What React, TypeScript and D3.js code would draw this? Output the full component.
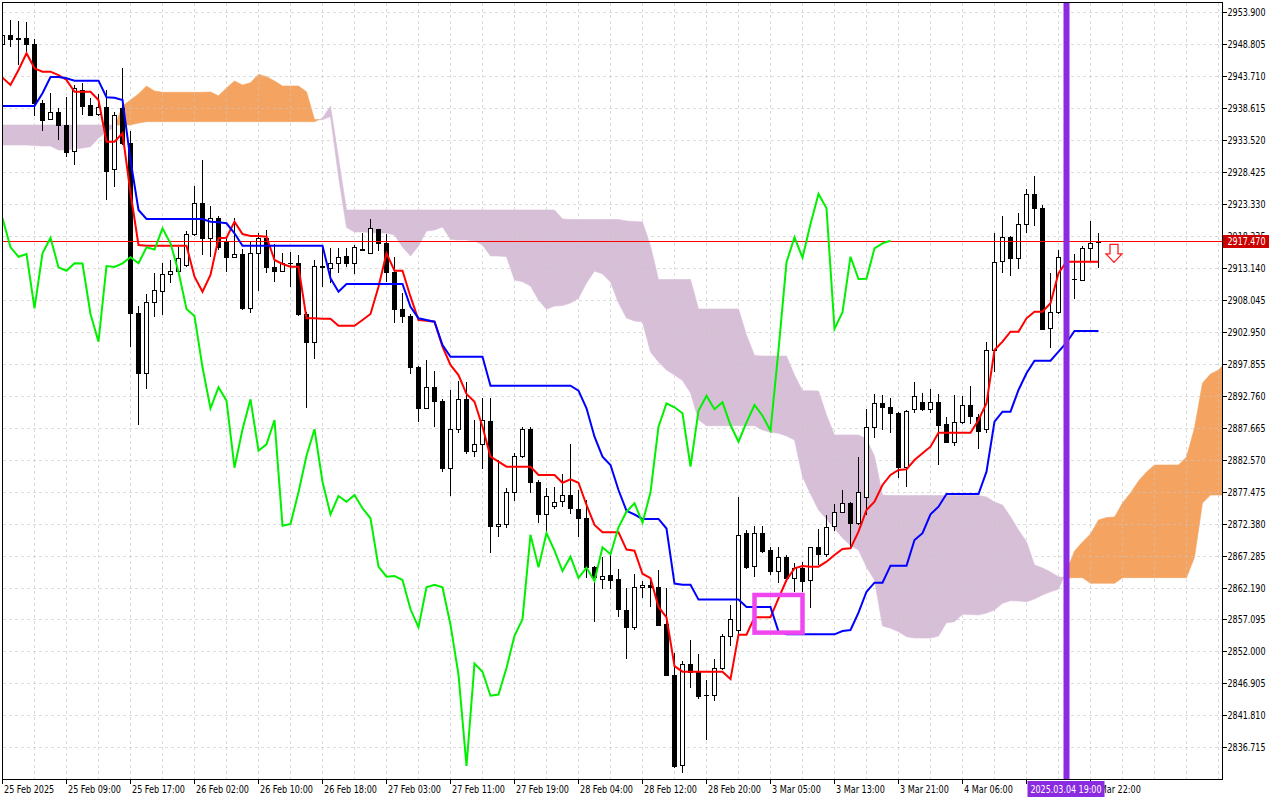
import React, { useEffect, useRef } from "react";
import * as d3 from "d3";

// hourly candles, 25 Feb 01:00 -> 4 Mar 23:00
const opens = [
  2948.85, 2950.28, 2949.76, 2949.85, 2948.85, 2939.49, 2936.84, 2937.96, 2935.88, 2931.83,
  2941.51, 2939.07, 2937.64, 2938.85, 2928.87, 2938.59, 2933.01, 2905.91, 2896.34, 2907.66,
  2909.47, 2912.18, 2912.70, 2913.61, 2918.55, 2923.45, 2917.87, 2921.06, 2917.44, 2914.93,
  2915.37, 2906.71, 2915.48, 2917.96, 2913.24, 2912.70, 2913.88, 2913.88, 2905.80, 2901.38,
  2913.45, 2913.09, 2913.88, 2915.05, 2913.88, 2916.16, 2915.57, 2919.30, 2917.07, 2912.54,
  2906.60, 2905.48, 2897.35, 2890.76, 2894.11, 2891.98, 2881.29, 2887.42, 2892.20, 2884.00,
  2885.02, 2888.74, 2872.00, 2872.27, 2877.47, 2883.16, 2887.42, 2879.06, 2873.86, 2875.19,
  2875.99, 2876.94, 2874.71, 2873.23, 2865.51, 2863.50, 2864.19, 2863.50, 2858.61, 2855.85,
  2862.21, 2862.62, 2862.34, 2856.44, 2848.29, 2833.85, 2850.06, 2848.77, 2845.05, 2845.12,
  2849.36, 2854.49, 2855.37, 2870.88, 2865.70, 2870.88, 2868.11, 2864.82, 2867.10, 2863.66,
  2865.35, 2863.39, 2868.60, 2867.49, 2872.00, 2874.28, 2875.62, 2872.43, 2876.57, 2887.83,
  2891.56, 2890.92, 2889.97, 2881.45, 2890.61, 2891.72, 2890.61, 2891.72, 2888.26, 2885.34,
  2888.53, 2891.29, 2889.43, 2887.42, 2900.06, 2914.25, 2918.03, 2914.78, 2920.15, 2924.93,
  2922.65, 2903.52, 2906.07, 2914.93, 2911.38, 2911.22, 2916.27, 2917.23,
];
const highs = [
  2950.44, 2952.67, 2952.56, 2952.40, 2949.60, 2939.92, 2940.99, 2938.59, 2940.44, 2942.31,
  2942.58, 2940.28, 2940.87, 2941.51, 2938.05, 2944.97, 2935.02, 2907.07, 2908.99, 2912.29,
  2913.88, 2914.41, 2916.53, 2919.03, 2926.21, 2930.35, 2923.02, 2921.42, 2918.12, 2921.06,
  2916.11, 2917.33, 2918.67, 2919.19, 2916.96, 2915.57, 2915.64, 2915.21, 2906.12, 2914.41,
  2916.27, 2916.27, 2916.27, 2916.27, 2916.80, 2918.76, 2920.90, 2919.35, 2918.51, 2914.93,
  2909.10, 2905.80, 2897.51, 2898.47, 2896.71, 2892.20, 2893.68, 2895.12, 2894.91, 2888.90,
  2892.45, 2892.36, 2882.52, 2878.01, 2883.69, 2887.83, 2887.83, 2879.33, 2878.01, 2878.27,
  2880.29, 2885.02, 2877.74, 2876.14, 2865.62, 2867.10, 2867.65, 2865.10, 2862.05, 2864.28,
  2863.23, 2863.63, 2864.98, 2862.05, 2851.72, 2850.54, 2853.90, 2851.54, 2847.48, 2850.84,
  2854.84, 2859.39, 2876.61, 2871.30, 2872.06, 2872.06, 2868.65, 2868.60, 2867.38, 2866.05,
  2866.31, 2868.70, 2871.47, 2873.75, 2875.51, 2877.74, 2875.87, 2882.95, 2890.61, 2893.00,
  2892.89, 2892.36, 2890.17, 2890.49, 2895.01, 2893.16, 2893.79, 2893.04, 2889.33, 2892.89,
  2892.73, 2894.32, 2889.86, 2901.38, 2918.76, 2921.42, 2918.24, 2921.95, 2925.68, 2927.80,
  2923.18, 2912.29, 2916.00, 2916.00, 2915.37, 2916.64, 2920.63, 2918.67,
];
const lows = [
  2948.69, 2948.42, 2945.50, 2947.36, 2937.37, 2935.02, 2936.73, 2933.54, 2930.78, 2929.55,
  2937.53, 2937.37, 2937.37, 2923.97, 2926.10, 2932.74, 2900.59, 2888.10, 2893.79, 2905.37,
  2905.64, 2910.79, 2912.50, 2913.29, 2918.24, 2915.21, 2914.84, 2916.00, 2912.54, 2914.73,
  2906.44, 2905.91, 2909.51, 2912.29, 2910.95, 2912.50, 2910.15, 2905.48, 2890.76, 2898.58,
  2910.06, 2910.69, 2912.38, 2913.34, 2912.13, 2915.84, 2915.37, 2915.84, 2910.95, 2904.32,
  2904.32, 2896.19, 2888.53, 2890.61, 2887.83, 2880.66, 2876.78, 2886.78, 2883.43, 2883.05,
  2881.04, 2867.74, 2870.20, 2871.73, 2875.99, 2882.89, 2877.21, 2872.53, 2871.09, 2874.66,
  2875.08, 2873.86, 2870.29, 2863.66, 2856.74, 2861.91, 2861.91, 2857.44, 2850.84, 2855.42,
  2860.57, 2859.09, 2856.06, 2848.08, 2833.42, 2832.56, 2846.23, 2844.46, 2837.86, 2844.05,
  2849.04, 2852.90, 2854.67, 2865.14, 2863.93, 2867.65, 2864.19, 2862.96, 2863.39, 2861.52,
  2861.52, 2858.88, 2865.78, 2867.10, 2871.25, 2874.02, 2868.70, 2872.16, 2873.75, 2885.98,
  2887.30, 2886.78, 2879.60, 2878.27, 2889.97, 2890.38, 2889.97, 2881.72, 2885.23, 2884.75,
  2888.26, 2888.26, 2884.23, 2886.78, 2896.60, 2912.38, 2911.86, 2912.97, 2918.67, 2919.83,
  2903.25, 2900.33, 2905.80, 2909.63, 2908.19, 2911.06, 2914.25, 2913.18,
];
const closes = [
  2950.28, 2949.60, 2949.72, 2948.80, 2939.49, 2936.73, 2937.96, 2935.88, 2931.68, 2941.78,
  2939.01, 2937.57, 2938.85, 2928.65, 2937.48, 2933.01, 2905.91, 2896.44, 2907.66, 2909.63,
  2912.13, 2912.70, 2914.68, 2918.51, 2923.45, 2917.87, 2921.06, 2916.43, 2914.93, 2915.37,
  2906.71, 2915.48, 2917.96, 2913.24, 2912.70, 2913.88, 2913.85, 2905.80, 2901.38, 2913.45,
  2913.29, 2913.88, 2914.84, 2913.88, 2916.43, 2916.08, 2919.46, 2917.07, 2912.54, 2906.60,
  2905.48, 2897.30, 2890.76, 2894.11, 2891.98, 2881.29, 2887.42, 2892.20, 2884.00, 2885.02,
  2888.90, 2872.05, 2872.32, 2877.37, 2883.21, 2887.42, 2879.06, 2873.86, 2876.78, 2875.87,
  2876.94, 2874.82, 2873.23, 2865.51, 2863.92, 2864.03, 2863.39, 2858.72, 2855.85, 2862.21,
  2862.62, 2862.21, 2856.26, 2848.29, 2833.74, 2850.06, 2848.77, 2844.94, 2845.12, 2849.36,
  2854.49, 2857.14, 2870.60, 2865.40, 2870.88, 2868.06, 2864.82, 2867.10, 2863.71, 2865.35,
  2863.23, 2868.60, 2867.49, 2871.79, 2874.28, 2875.62, 2872.53, 2877.37, 2887.83, 2891.56,
  2890.92, 2889.97, 2881.45, 2890.38, 2892.77, 2890.61, 2891.72, 2888.10, 2885.44, 2888.53,
  2891.29, 2889.58, 2887.19, 2900.06, 2914.04, 2918.03, 2914.78, 2920.15, 2924.93, 2922.65,
  2903.41, 2906.07, 2914.93, 2911.38, 2911.43, 2916.27, 2917.07, 2917.47,
];

// Ichimoku lines
const tenkan = [
  2943.47, 2942.31, 2944.70, 2947.36, 2944.97, 2944.43, 2944.43, 2943.90, 2943.11, 2941.24,
  2941.24, 2941.24, 2939.92, 2933.27, 2933.27, 2934.61, 2925.09, 2916.80, 2916.69, 2916.69,
  2916.69, 2916.69, 2916.69, 2916.69, 2911.75, 2909.35, 2912.02, 2917.87, 2917.96, 2920.52,
  2918.55, 2918.24, 2918.24, 2918.12, 2914.41, 2913.77, 2913.34, 2913.34, 2905.11, 2905.11,
  2905.05, 2905.05, 2903.93, 2903.93, 2903.93, 2904.84, 2905.80, 2910.15, 2915.48, 2912.70,
  2912.70, 2908.56, 2904.84, 2904.73, 2904.57, 2900.59, 2897.67, 2896.07, 2893.04, 2891.82,
  2887.83, 2883.05, 2882.25, 2881.45, 2881.45, 2881.45, 2881.45, 2880.13, 2880.13, 2880.13,
  2878.90, 2879.44, 2878.90, 2875.35, 2872.16, 2870.99, 2870.99, 2870.99, 2868.24, 2868.06,
  2864.39, 2863.69, 2859.09, 2857.44, 2849.65, 2848.77, 2848.77, 2848.77, 2848.77, 2848.77,
  2848.77, 2847.59, 2854.67, 2854.67, 2857.44, 2857.44, 2857.44, 2860.47, 2863.39, 2865.25,
  2865.62, 2865.51, 2865.51, 2866.31, 2867.38, 2868.33, 2868.44, 2871.09, 2874.55, 2875.87,
  2878.54, 2880.13, 2880.93, 2881.04, 2882.52, 2883.59, 2884.64, 2886.87, 2886.87, 2886.87,
  2886.87, 2886.87, 2888.90, 2891.56, 2900.06, 2901.38, 2902.98, 2902.98, 2905.11, 2906.17,
  2906.17, 2907.51, 2912.29, 2914.14, 2914.14, 2914.14, 2914.14, 2914.14,
];
const kijun = [
  2938.96, 2938.96, 2938.96, 2938.96, 2938.96, 2940.99, 2943.59, 2943.59, 2943.38, 2943.00,
  2943.00, 2943.00, 2943.00, 2940.35, 2940.28, 2939.92, 2930.35, 2922.38, 2920.95, 2920.95,
  2920.95, 2920.95, 2920.95, 2920.95, 2920.95, 2920.95, 2920.52, 2920.42, 2920.26, 2918.67,
  2916.69, 2916.69, 2916.69, 2916.69, 2916.69, 2916.69, 2916.69, 2916.69, 2916.69, 2916.69,
  2916.69, 2911.49, 2909.35, 2910.58, 2910.58, 2910.58, 2910.58, 2910.58, 2910.58, 2910.58,
  2910.58, 2906.96, 2905.11, 2904.84, 2904.57, 2900.86, 2898.99, 2898.99, 2898.99, 2898.99,
  2898.99, 2894.37, 2894.37, 2894.37, 2894.37, 2894.37, 2894.37, 2894.37, 2894.37, 2894.37,
  2894.37, 2894.37, 2893.57, 2890.76, 2886.24, 2883.05, 2881.72, 2877.74, 2874.42, 2873.83,
  2873.13, 2873.13, 2873.13, 2871.60, 2862.82, 2862.62, 2862.62, 2860.26, 2860.26, 2860.26,
  2860.26, 2860.26, 2860.26, 2859.09, 2859.09, 2859.09, 2859.09, 2855.15, 2854.73, 2854.73,
  2854.73, 2854.73, 2854.73, 2854.73, 2854.73, 2855.26, 2855.42, 2858.18, 2861.52, 2862.96,
  2862.96, 2865.67, 2865.67, 2865.67, 2869.77, 2870.84, 2873.86, 2875.08, 2877.10, 2877.10,
  2877.10, 2877.10, 2877.10, 2880.66, 2888.63, 2890.22, 2890.22, 2893.68, 2896.34, 2898.35,
  2898.35, 2898.35, 2899.79, 2901.22, 2903.09, 2903.09, 2903.09, 2903.09,
];
// senkou spans, already shifted 26 bars ahead (index = displayed bar)
const spanA = [
  2932.74, 2932.74, 2932.74, 2932.74, 2932.66, 2932.58, 2932.58, 2931.95, 2931.95, 2932.11,
  2932.26, 2932.47, 2933.86, 2934.82, 2935.61, 2938.96, 2939.92, 2940.87, 2942.15, 2941.35,
  2941.15, 2941.15, 2941.15, 2941.15, 2941.15, 2941.15, 2941.20, 2940.60, 2941.83, 2942.95,
  2942.31, 2942.68, 2944.02, 2943.63, 2942.95, 2942.15, 2942.15, 2942.15, 2941.24, 2936.81,
  2936.78, 2937.27, 2927.72, 2919.59, 2918.87, 2918.87, 2918.79, 2918.71, 2918.71, 2918.39,
  2916.48, 2915.05, 2916.64, 2919.03, 2919.19, 2919.67, 2917.71, 2917.60, 2917.60, 2917.44,
  2916.80, 2915.05, 2915.05, 2914.93, 2911.22, 2910.95, 2910.26, 2908.03, 2906.55, 2907.07,
  2907.15, 2907.55, 2908.30, 2910.74, 2912.65, 2912.18, 2910.90, 2907.55, 2905.16, 2904.68,
  2904.52, 2899.74, 2898.15, 2896.87, 2896.07, 2895.20, 2893.20, 2888.90, 2887.99, 2887.99,
  2887.99, 2887.99, 2887.99, 2887.99, 2887.99, 2887.30, 2886.94, 2886.78, 2886.35, 2885.71,
  2879.86, 2877.10, 2874.55, 2873.12, 2871.63, 2870.09, 2868.89, 2868.17, 2865.46, 2863.39,
  2856.06, 2855.69, 2855.15, 2854.35, 2854.14, 2854.14, 2854.14, 2854.46, 2856.58, 2856.74,
  2857.92, 2857.89, 2857.81, 2858.13, 2858.61, 2859.67, 2860.09, 2860.04, 2859.93, 2860.36,
  2861.00, 2861.52, 2861.91, 2864.80, 2868.00, 2869.45, 2870.72, 2872.96, 2873.35, 2873.43,
  2875.67, 2877.26, 2879.17, 2880.61, 2881.72, 2881.72, 2881.72, 2881.72, 2883.00, 2887.62,
  2894.80, 2896.23, 2896.87, 2898.30,
];
const spanB = [
  2935.93, 2935.93, 2935.93, 2935.93, 2935.93, 2935.93, 2935.93, 2935.93, 2935.93, 2935.93,
  2935.93, 2935.93, 2935.93, 2935.93, 2935.93, 2935.93, 2935.93, 2936.25, 2936.46, 2936.46,
  2936.46, 2936.46, 2936.46, 2936.46, 2936.46, 2936.46, 2936.46, 2936.46, 2936.46, 2936.46,
  2936.46, 2936.46, 2936.46, 2936.46, 2936.46, 2936.46, 2936.46, 2936.46, 2936.46, 2936.46,
  2937.05, 2938.96, 2930.67, 2922.38, 2922.38, 2922.38, 2922.38, 2922.38, 2922.38, 2922.38,
  2922.38, 2922.38, 2922.38, 2922.38, 2922.38, 2922.38, 2922.38, 2922.38, 2922.38, 2922.38,
  2922.38, 2922.38, 2922.38, 2922.38, 2922.38, 2922.38, 2922.38, 2922.38, 2922.38, 2922.38,
  2920.95, 2920.87, 2920.87, 2920.87, 2920.87, 2920.87, 2920.87, 2920.87, 2920.63, 2920.55,
  2920.47, 2916.64, 2911.30, 2911.30, 2911.30, 2911.30, 2911.30, 2906.60, 2906.60, 2906.60,
  2906.60, 2906.60, 2906.60, 2902.45, 2899.20, 2899.10, 2899.10, 2899.10, 2899.10, 2896.07,
  2893.57, 2893.57, 2893.52, 2889.70, 2886.51, 2886.51, 2886.51, 2886.51, 2885.87, 2883.16,
  2876.94, 2876.86, 2876.86, 2876.86, 2876.86, 2876.86, 2876.86, 2876.86, 2876.86, 2876.86,
  2876.86, 2876.86, 2876.86, 2876.62, 2875.82, 2875.35, 2873.48, 2871.36, 2869.50, 2865.78,
  2865.30, 2864.67, 2863.92, 2863.71, 2863.76, 2863.76, 2862.86, 2862.86, 2862.86, 2862.86,
  2863.76, 2863.76, 2863.76, 2863.76, 2863.76, 2863.76, 2863.76, 2863.76, 2863.76, 2867.00,
  2875.67, 2876.94, 2876.94, 2876.94,
];

const priceTicks = [
  2953.9, 2948.805, 2943.71, 2938.615, 2933.52, 2928.425, 2923.33, 2918.235, 2913.14, 2908.045,
  2902.95, 2897.855, 2892.76, 2887.665, 2882.57, 2877.475, 2872.38, 2867.285, 2862.19, 2857.095,
  2852.0, 2846.905, 2841.81, 2836.715,
];
const timeLabels = [
  "25 Feb 2025", "25 Feb 09:00", "25 Feb 17:00", "26 Feb 02:00", "26 Feb 10:00", "26 Feb 18:00",
  "27 Feb 03:00", "27 Feb 11:00", "27 Feb 19:00", "28 Feb 04:00", "28 Feb 12:00", "28 Feb 20:00",
  "3 Mar 05:00", "3 Mar 13:00", "3 Mar 21:00", "4 Mar 06:00", "4 Mar 14:00", "4 Mar 22:00",
];
const labelStep = 8; // one time label every 8 bars

const bidPrice = 2917.47;
const markerBar = 133;
const markerLabel = "2025.03.04 19:00";
const boxBars = [94, 100];
const boxPrices = [2861.0, 2855.0];
const arrowBar = 139;
const arrowPrice = 2916.9;

const FONT = "'DejaVu Sans Condensed', 'DejaVu Sans', sans-serif";

const App: React.FC = () => {
  const svgRef = useRef<SVGSVGElement>(null);

  useEffect(() => {
    document.body.style.margin = "0";
    const svg = d3.select(svgRef.current);
    svg.selectAll("*").remove();

    const left = 2.5, top = 2.5, right = 1222.5, bottom = 779.5;

    const x = d3.scaleLinear().domain([0, 152]).range([2.5, 1218.5]);
    const y = d3.scaleLinear().domain([2836.715, 2953.9]).range([747.3, 12.3]);

    svg.append("rect").attr("width", 1280).attr("height", 800).attr("fill", "#fff");

    svg.append("defs").append("clipPath").attr("id", "plot")
      .append("rect").attr("x", left).attr("y", top)
      .attr("width", right - left).attr("height", bottom - top);

    const g = svg.append("g").attr("clip-path", "url(#plot)");

    // cloud: split into runs where span A is above / below span B
    type Pt = [number, number, number];
    const runs: { up: boolean; pts: Pt[] }[] = [];
    let cur: { up: boolean; pts: Pt[] } | null = null;
    for (let j = 0; j < spanA.length; j++) {
      const d = spanA[j] - spanB[j];
      const up = d >= 0;
      if (cur && up !== cur.up) {
        const dp = spanA[j - 1] - spanB[j - 1];
        const t = dp / (dp - d);
        const pm = spanA[j - 1] + t * (spanA[j] - spanA[j - 1]);
        cur.pts.push([j - 1 + t, pm, pm]);
        cur = { up, pts: [[j - 1 + t, pm, pm]] };
        runs.push(cur);
      }
      if (!cur) {
        cur = { up, pts: [] };
        runs.push(cur);
      }
      cur.pts.push([j, spanA[j], spanB[j]]);
    }
    const area = d3.area<Pt>()
      .x(d => x(d[0]))
      .y0(d => y(d[2]))
      .y1(d => y(d[1]));
    g.selectAll(".cloud").data(runs).enter().append("path")
      .attr("d", d => area(d.pts) || "")
      .attr("fill", d => (d.up ? "#F4A460" : "#D8BFD8"))
      .attr("stroke", d => (d.up ? "#F4A460" : "#D8BFD8"))
      .attr("stroke-width", 0.6);

    // grid
    const grid = g.append("g").attr("stroke", "#c4c4c4").attr("stroke-opacity", 0.6)
      .attr("stroke-dasharray", "3,3").attr("shape-rendering", "crispEdges");
    priceTicks.forEach(p => {
      const yy = Math.round(y(p)) + 0.5;
      grid.append("line").attr("x1", left).attr("x2", right).attr("y1", yy).attr("y2", yy);
    });
    d3.range(4, 153, 4).forEach(i => {
      grid.append("line").attr("x1", x(i)).attr("x2", x(i)).attr("y1", top).attr("y2", bottom);
    });

    // candles
    const cg = g.append("g").attr("shape-rendering", "crispEdges");
    opens.forEach((o, i) => {
      const c = closes[i];
      const cx = x(i);
      cg.append("line").attr("x1", cx).attr("x2", cx)
        .attr("y1", y(highs[i])).attr("y2", y(lows[i]))
        .attr("stroke", "#000").attr("stroke-width", 1);
      const yt = Math.round(y(Math.max(o, c))) + 0.5;
      const yb = Math.round(y(Math.min(o, c))) + 0.5;
      cg.append("rect").attr("x", cx - 2).attr("width", 4)
        .attr("y", yt).attr("height", Math.max(0.01, yb - yt))
        .attr("fill", c >= o ? "#fff" : "#000")
        .attr("stroke", "#000").attr("stroke-width", 1);
    });

    // bid line
    const yBid = Math.round(y(bidPrice)) + 0.5;
    g.append("line").attr("x1", left).attr("x2", right).attr("y1", yBid).attr("y2", yBid)
      .attr("stroke", "#ff0000").attr("stroke-width", 1).attr("shape-rendering", "crispEdges");

    // ichimoku lines
    const line = d3.line<number>().x((_, i) => x(i)).y(d => y(d));
    g.append("path").attr("d", line(tenkan) || "").attr("fill", "none")
      .attr("stroke", "#ff0000").attr("stroke-width", 2);
    g.append("path").attr("d", line(kijun) || "").attr("fill", "none")
      .attr("stroke", "#0000ff").attr("stroke-width", 2);
    const chikou = closes.slice(26);
    g.append("path").attr("d", line(chikou) || "").attr("fill", "none")
      .attr("stroke", "#00f000").attr("stroke-width", 2);

    // objects
    g.append("rect")
      .attr("x", x(boxBars[0])).attr("y", y(boxPrices[0]))
      .attr("width", x(boxBars[1]) - x(boxBars[0]))
      .attr("height", y(boxPrices[1]) - y(boxPrices[0]))
      .attr("fill", "none").attr("stroke", "#f046f0").attr("stroke-width", 4.5);

    const ax = x(arrowBar) - 0.5, ay = y(arrowPrice);
    g.append("path")
      .attr("d", `M${ax - 4},${ay} L${ax + 4},${ay} L${ax + 4},${ay + 9.5} L${ax + 8},${ay + 9.5} L${ax},${ay + 18} L${ax - 8},${ay + 9.5} L${ax - 4},${ay + 9.5} Z`)
      .attr("fill", "#fff").attr("stroke", "#ff2020").attr("stroke-width", 1.3);

    g.append("line").attr("x1", x(markerBar)).attr("x2", x(markerBar))
      .attr("y1", top).attr("y2", bottom)
      .attr("stroke", "#8A2BE2").attr("stroke-width", 6);

    // frame
    svg.append("rect").attr("x", left).attr("y", top)
      .attr("width", right - left).attr("height", bottom - top)
      .attr("fill", "none").attr("stroke", "#000").attr("shape-rendering", "crispEdges");

    // price axis
    const pa = svg.append("g").attr("font-family", FONT).attr("font-size", 10)
      .attr("font-stretch", "condensed");
    priceTicks.forEach(p => {
      const yy = Math.round(y(p)) + 0.5;
      pa.append("line").attr("x1", right).attr("x2", right + 4).attr("y1", yy).attr("y2", yy)
        .attr("stroke", "#000").attr("shape-rendering", "crispEdges");
      pa.append("text").attr("x", 1227.5).attr("y", yy + 3.5).attr("fill", "#000")
        .attr("textLength", 38).attr("lengthAdjust", "spacingAndGlyphs")
        .text(p.toFixed(3));
    });
    pa.append("rect").attr("x", 1223).attr("y", yBid - 6.5).attr("width", 46).attr("height", 13)
      .attr("fill", "#cc0000");
    pa.append("text").attr("x", 1227.5).attr("y", yBid + 3.5).attr("fill", "#fff")
      .attr("textLength", 38).attr("lengthAdjust", "spacingAndGlyphs")
      .text(bidPrice.toFixed(3));

    // time axis (the label hidden under the marker box is not drawn)
    const ta = svg.append("g").attr("font-family", FONT).attr("font-size", 10)
      .attr("font-stretch", "condensed");
    const mx = x(markerBar);
    timeLabels.forEach((lab, k) => {
      const xx = x(k * labelStep);
      ta.append("line").attr("x1", xx).attr("x2", xx).attr("y1", bottom).attr("y2", bottom + 4)
        .attr("stroke", "#000").attr("shape-rendering", "crispEdges");
      if (xx > mx - 45 && xx < mx + 10) return;
      ta.append("text").attr("transform", `translate(${xx + 1.5},793) scale(0.9,1)`)
        .attr("fill", "#000").text(lab);
    });
    ta.append("rect").attr("x", mx - 39).attr("y", 781).attr("width", 77).attr("height", 16)
      .attr("fill", "#8A2BE2");
    ta.append("text").attr("x", mx - 0.5).attr("y", 793).attr("fill", "#fff")
      .attr("text-anchor", "middle").attr("textLength", 71).attr("lengthAdjust", "spacingAndGlyphs")
      .text(markerLabel);
  }, []);

  return <svg ref={svgRef} width={1280} height={800} style={{ display: "block" }} />;
};

export default App;
